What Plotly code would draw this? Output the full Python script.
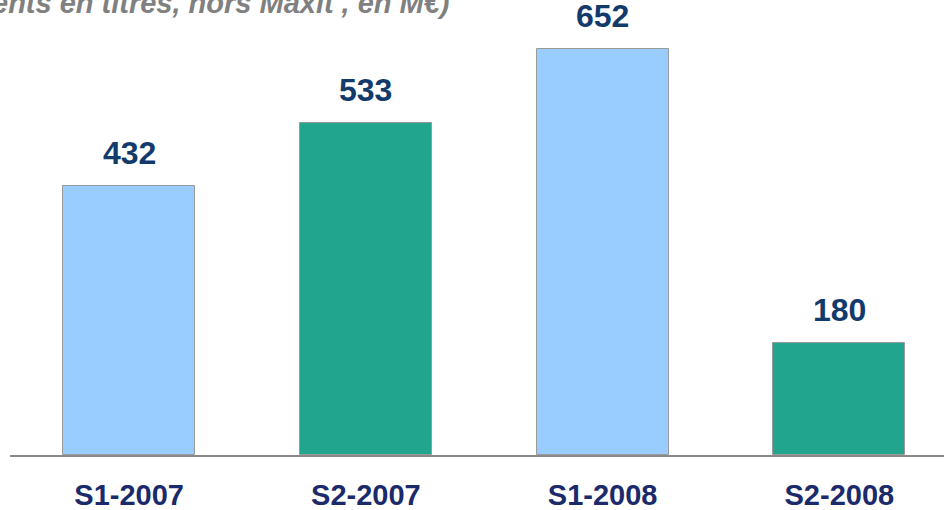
import plotly.graph_objects as go

categories = ["S1-2007", "S2-2007", "S1-2008", "S2-2008"]
values = [432, 533, 652, 180]
bar_colors = ["#99CCFF", "#22A58F", "#99CCFF", "#22A58F"]
title_fragment = "ents en titres, hors Maxit<sup>*</sup>, en M€)"

fig = go.Figure()
fig.add_trace(go.Bar(
    x=categories, y=values,
    marker=dict(color=bar_colors, line=dict(color="#9a9a9a", width=1)),
    width=0.558, hoverinfo="skip",
))

for c, v in zip(categories, values):
    fig.add_annotation(x=c, y=v, text=f"<b>{v}</b>", showarrow=False,
                       yanchor="bottom", yshift=13,
                       font=dict(family="Liberation Sans, Arial", size=32, color="#123A6B"))

fig.add_annotation(x=0.473, y=1, xref="paper", yref="paper", text=f"<b><i>{title_fragment}</i></b>",
                   showarrow=False, xanchor="right", yanchor="bottom", yshift=-2,
                   font=dict(family="Liberation Sans, Arial", size=29, color="#808080"))

fig.update_layout(
    width=944, height=510,
    margin=dict(l=10, r=0, t=19, b=55),
    paper_bgcolor="white", plot_bgcolor="white",
    showlegend=False, bargap=0,
    xaxis=dict(range=[-0.5033, 3.442], showgrid=False, zeroline=False, automargin=False,
               showline=True, linecolor="#8a8a8a", linewidth=2,
               ticks="outside", ticklen=13, tickcolor="rgba(0,0,0,0)",
               tickfont=dict(family="Liberation Sans, Arial", size=29, color="#1B2A6B")),
    yaxis=dict(range=[0, 700], visible=False, showgrid=False, zeroline=False, automargin=False),
)
fig.update_xaxes(tickprefix="<b>", ticksuffix="</b>")
fig.write_html("out.html", config={"displayModeBar": False},
               post_script="document.body.style.margin='0';document.body.style.overflow='hidden';")
